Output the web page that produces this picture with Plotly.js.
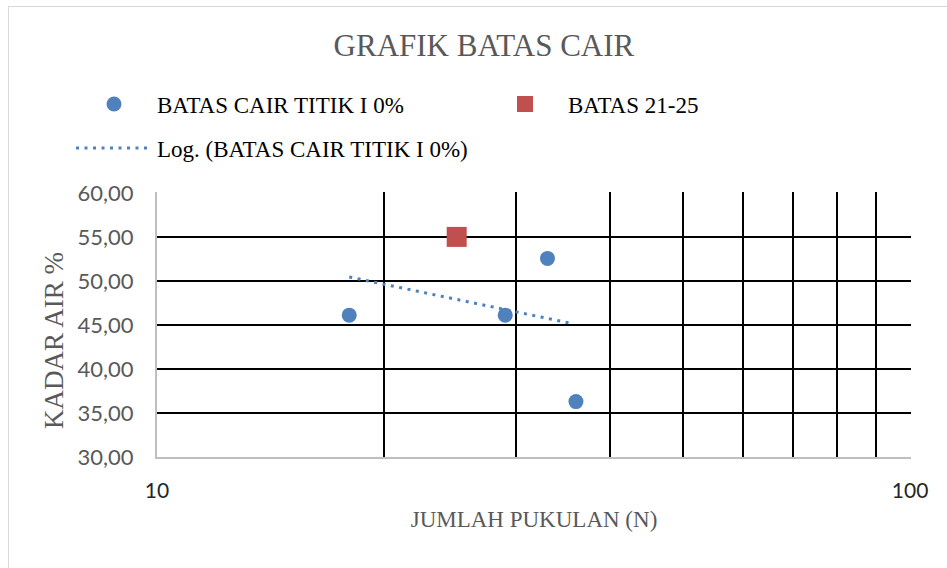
<!DOCTYPE html>
<html>
<head>
<meta charset="utf-8">
<script src="https://cdn.plot.ly/plotly-3.0.1.min.js"></script>
<style>
  html, body { margin: 0; padding: 0; background: #fff; }
  #wrap { position: relative; width: 947px; height: 568px; overflow: hidden; }
  #frame { position: absolute; left: 8px; top: 6px; width: 960px; height: 600px;
           border-left: 1.5px solid #d9d9d9; border-top: 1.5px solid #d9d9d9; pointer-events: none; }
  #chart { position: absolute; left: 0; top: 0; width: 947px; height: 568px; }
</style>
</head>
<body>
<div id="wrap">
  <div id="chart"></div>
  <div id="frame"></div>
</div>
<script>
// ---- data ----
const pukulan = [18, 29, 33, 36];               // JUMLAH PUKULAN (N)
const kadarAir = [46.11, 46.11, 52.56, 36.29];  // KADAR AIR %
const batasX = [25];
const batasY = [55.0];
const trendX = [18, 35.2];                      // logarithmic trendline ends
const trendY = [50.45, 45.24];
const xTickVals = [10, 20, 30, 40, 50, 60, 70, 80, 90, 100];
const xTickText = ['10', '', '', '', '', '', '', '', '', '100'];
const yTickVals = [30, 35, 40, 45, 50, 55, 60];

const BLUE = '#4F81BD';
const RED = '#C0504D';
const serif = 'Liberation Serif';
const sans = 'Lato';

const L = 157, R = 911, T = 192, B = 457;
const px2x = p => (p - L) / (R - L);
const py2y = p => (B - p) / (B - T);

const traces = [
  {
    type: 'scatter', mode: 'markers', x: pukulan, y: kadarAir,
    name: 'BATAS CAIR TITIK I 0%',
    marker: { color: BLUE, size: 15, symbol: 'circle' },
    legend: 'legend', hoverinfo: 'x+y'
  },
  {
    type: 'scatter', mode: 'markers', x: batasX, y: batasY,
    name: 'BATAS 21-25',
    marker: { color: RED, size: 20, symbol: 'square' },
    legend: 'legend2', hoverinfo: 'x+y'
  },
  {
    type: 'scatter', mode: 'lines', x: trendX, y: trendY,
    name: 'Log. (BATAS CAIR TITIK I 0%)',
    line: { color: BLUE, width: 3, dash: '3px,5.5px' },
    legend: 'legend3', hoverinfo: 'skip'
  }
];

function mkLegend(x, y) {
  return {
    orientation: 'h', xanchor: 'left', yanchor: 'middle', x: x, y: y,
    bgcolor: 'rgba(0,0,0,0)', borderwidth: 0,
    font: { family: serif, size: 23, color: '#000000' },
    itemwidth: 76, itemclick: false, itemdoubleclick: false
  };
}

const layout = {
  width: 947, height: 568,
  font: { family: serif, color: '#000000' },
  paper_bgcolor: 'rgba(0,0,0,0)', plot_bgcolor: '#fff',
  margin: { l: L, r: 947 - R, t: T, b: 568 - B },
  separators: ',.',
  showlegend: true,
  title: {
    text: 'GRAFIK BATAS CAIR',
    font: { family: serif, size: 31, color: '#595959' },
    x: 0.511, xanchor: 'center', y: 1 - 45 / 568, yanchor: 'middle'
  },
  legend: mkLegend(px2x(71), py2y(104)),
  legend2: mkLegend(px2x(482), py2y(104)),
  legend3: mkLegend(px2x(71), py2y(148)),
  xaxis: {
    type: 'log', range: [1, 2.0012],
    tickvals: xTickVals, ticktext: xTickText,
    ticks: '', ticklabelstandoff: 14,
    tickfont: { family: sans, size: 21, color: '#262626' },
    showgrid: true, gridcolor: '#000', gridwidth: 2,
    showline: true, linecolor: '#bfbfbf', linewidth: 2,
    zeroline: false, fixedrange: true,
    title: { text: 'JUMLAH PUKULAN (N)', font: { family: serif, size: 23, color: '#595959' }, standoff: 10 },
    automargin: false
  },
  yaxis: {
    range: [30, 60.1], tickvals: yTickVals, tickformat: '.2f',
    ticks: '', ticklabelstandoff: 17,
    tickfont: { family: sans, size: 22, color: '#595959' },
    showgrid: true, gridcolor: '#000', gridwidth: 2,
    showline: true, linecolor: '#bfbfbf', linewidth: 2,
    zeroline: false, fixedrange: true,
    automargin: false
  },
  annotations: [{
    text: 'KADAR AIR %', textangle: -90,
    xref: 'paper', yref: 'paper', x: px2x(54), y: py2y(341),
    xanchor: 'center', yanchor: 'middle', showarrow: false,
    font: { family: serif, size: 27, color: '#595959' }
  }]
};

Plotly.newPlot('chart', traces, layout, { displayModeBar: false, staticPlot: true });
</script>
</body>
</html>
